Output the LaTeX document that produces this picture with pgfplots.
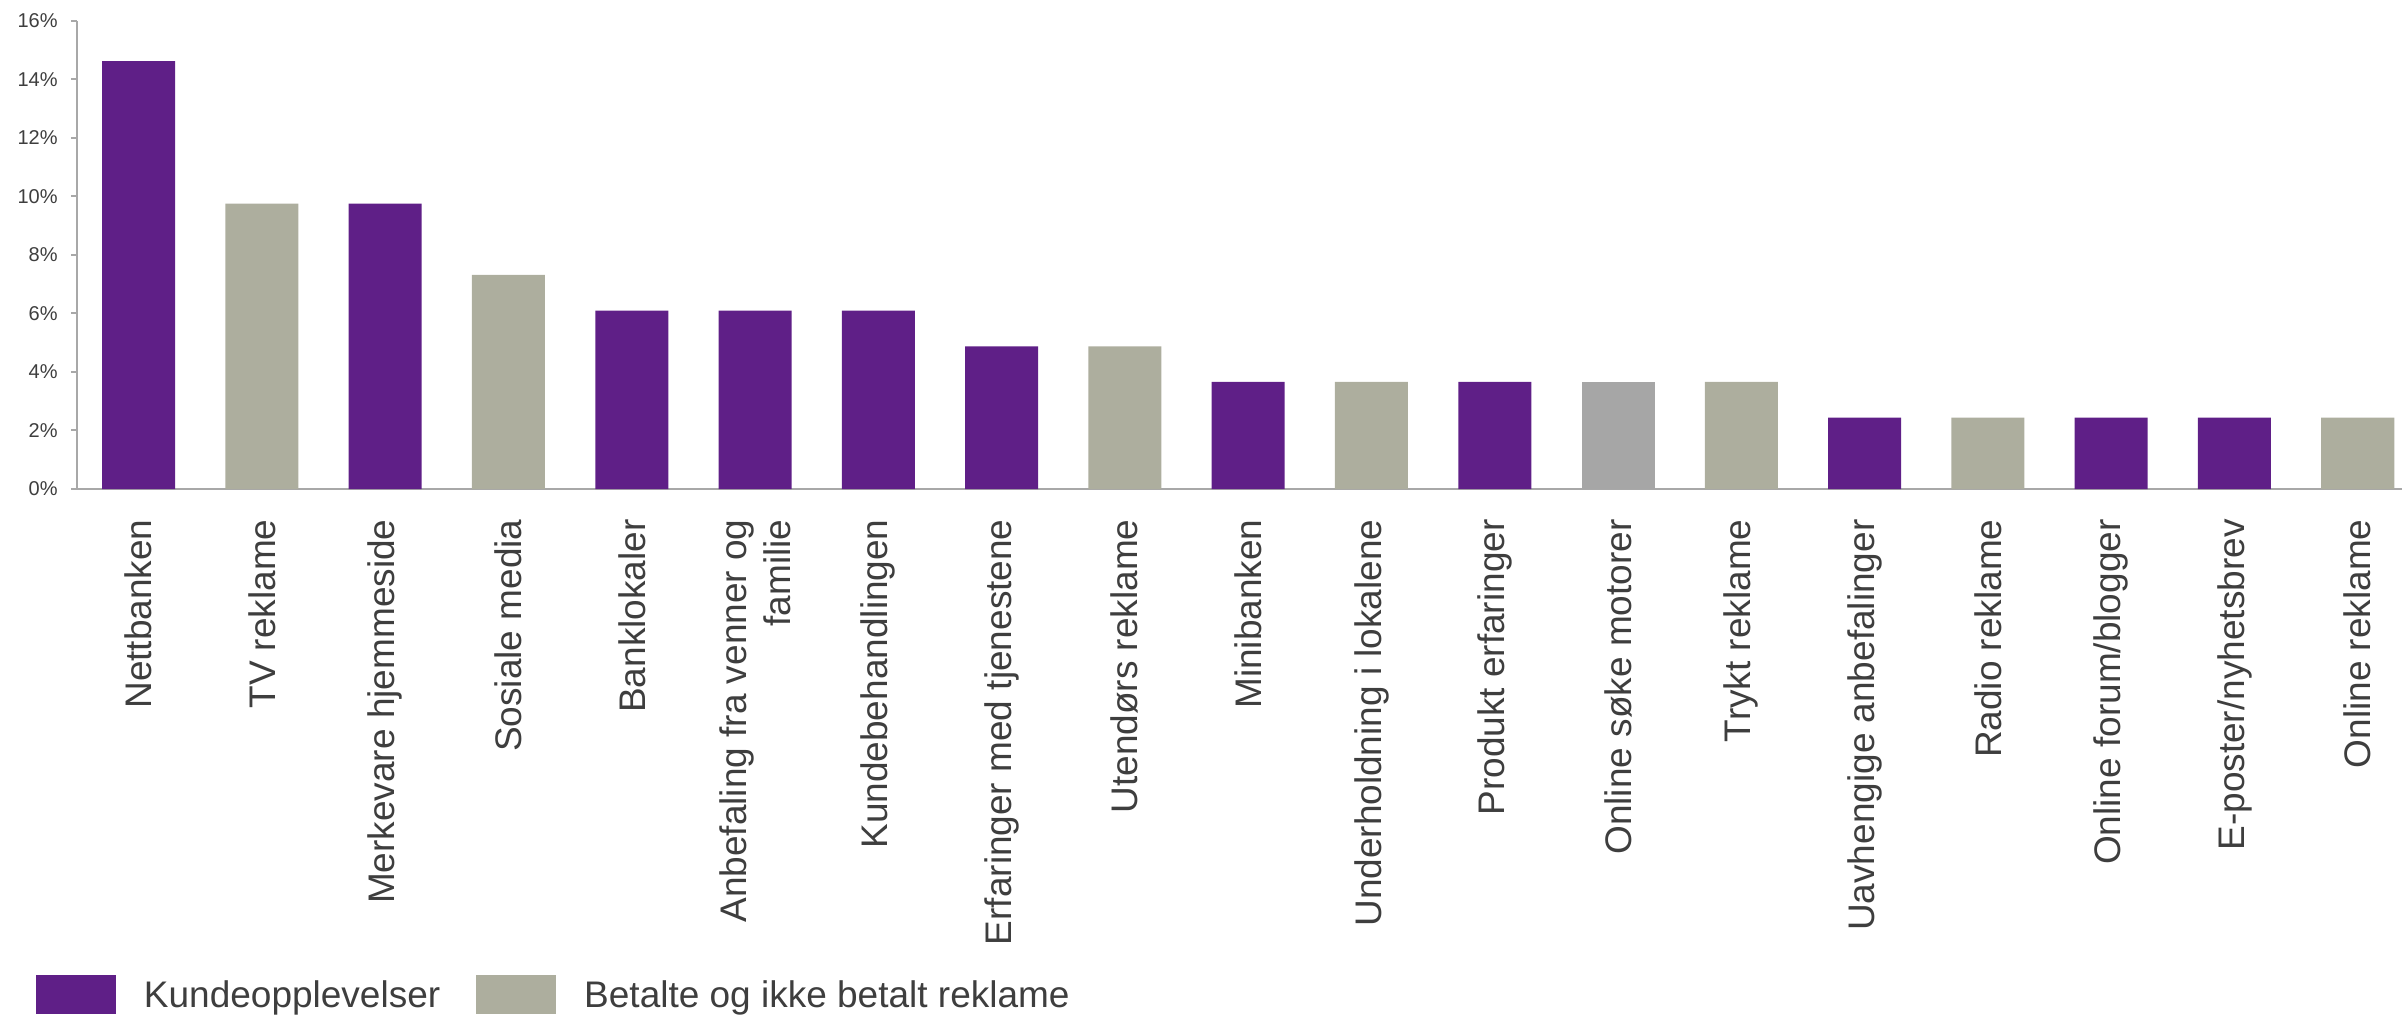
\documentclass[border=0pt]{standalone}
\usepackage{pgfplots}
\pgfplotsset{compat=1.18}
\usepackage{fontspec}
\setmainfont{Liberation Sans}
\definecolor{kpurple}{RGB}{95,31,135}
\definecolor{kgreen}{RGB}{173,174,158}
\definecolor{kgray}{RGB}{166,166,166}
\definecolor{axgray}{RGB}{168,168,168}
\definecolor{txt}{RGB}{62,62,62}
\begin{document}
\begin{tikzpicture}
\useasboundingbox (-38.5pt,-263pt) rectangle (1162.5pt,244.5pt);
\begin{axis}[
  at={(0pt,0pt)}, anchor=south west,
  width=1171.2pt, height=234pt, scale only axis,
  xmin=-0.5, xmax=18.5, ymin=0, ymax=16,
  enlargelimits=false, clip=false,
  axis x line=bottom, axis y line=left,
  axis line style={-, draw=axgray, line width=1pt},
  ytick={0,2,...,16},
  yticklabel={\pgfmathprintnumber{\tick}\%},
  /pgf/number format/assume math mode=true,
  tick align=outside,
  major tick length=3pt,
  ytick style={draw=axgray, line width=1pt},
  xtick={0,...,18},
  xtick style={draw=none},
  yticklabel style={font=\fontsize{10}{12}\selectfont, text=txt, inner sep=0pt, anchor=east},
  yticklabel shift=6.5pt,
  xticklabel style={font=\fontsize{18.5}{22}\selectfont, text=txt, inner sep=0pt, rotate=90, anchor=east, align=right},
  xticklabel shift=12pt,
  xticklabels={Nettbanken, TV reklame, Merkevare hjemmeside, Sosiale media, Banklokaler, {Anbefaling fra venner og\\familie}, Kundebehandlingen, Erfaringer med tjenestene, Utendørs reklame, Minibanken, Underholdning i lokalene, Produkt erfaringer, Online søke motorer, Trykt reklame, Uavhengige anbefalinger, Radio reklame, Online forum/blogger, E-poster/nyhetsbrev, Online reklame},
  legsq/.style={legend image code/.code={\fill[##1] (0pt,-9.75pt) rectangle (40pt,9.75pt);}},
  legend style={at={(axis description cs:0,0)}, anchor=west, xshift=-20.5pt, yshift=-252.75pt,
    draw=none, fill=none, inner sep=0pt, outer sep=0pt,
    font=\fontsize{18.5}{22}\selectfont, text=txt,
    nodes={inner sep=0pt, outer sep=0pt, text depth=0pt},
    legend columns=2,
    /tikz/every odd column/.append style={column sep=14pt},
    /tikz/every even column/.append style={column sep=18pt}},
  legend cell align=left,
]
\addplot[ybar, bar width=36.5pt, bar shift=0pt, fill=kpurple, draw=none, legsq] coordinates {
(0,14.63) (2,9.76) (4,6.10) (5,6.10) (6,6.10) (7,4.88) (9,3.66) (11,3.66) (14,2.44) (16,2.44) (17,2.44)};
\addplot[ybar, bar width=36.5pt, bar shift=0pt, fill=kgreen, draw=none, legsq] coordinates {
(1,9.76) (3,7.32) (8,4.88) (10,3.66) (13,3.66) (15,2.44) (18,2.44)};
\addplot[ybar, bar width=36.5pt, bar shift=0pt, fill=kgray, draw=none, forget plot] coordinates {
(12,3.66)};
\legend{Kundeopplevelser, Betalte og ikke betalt reklame}
\end{axis}
\end{tikzpicture}
\end{document}
